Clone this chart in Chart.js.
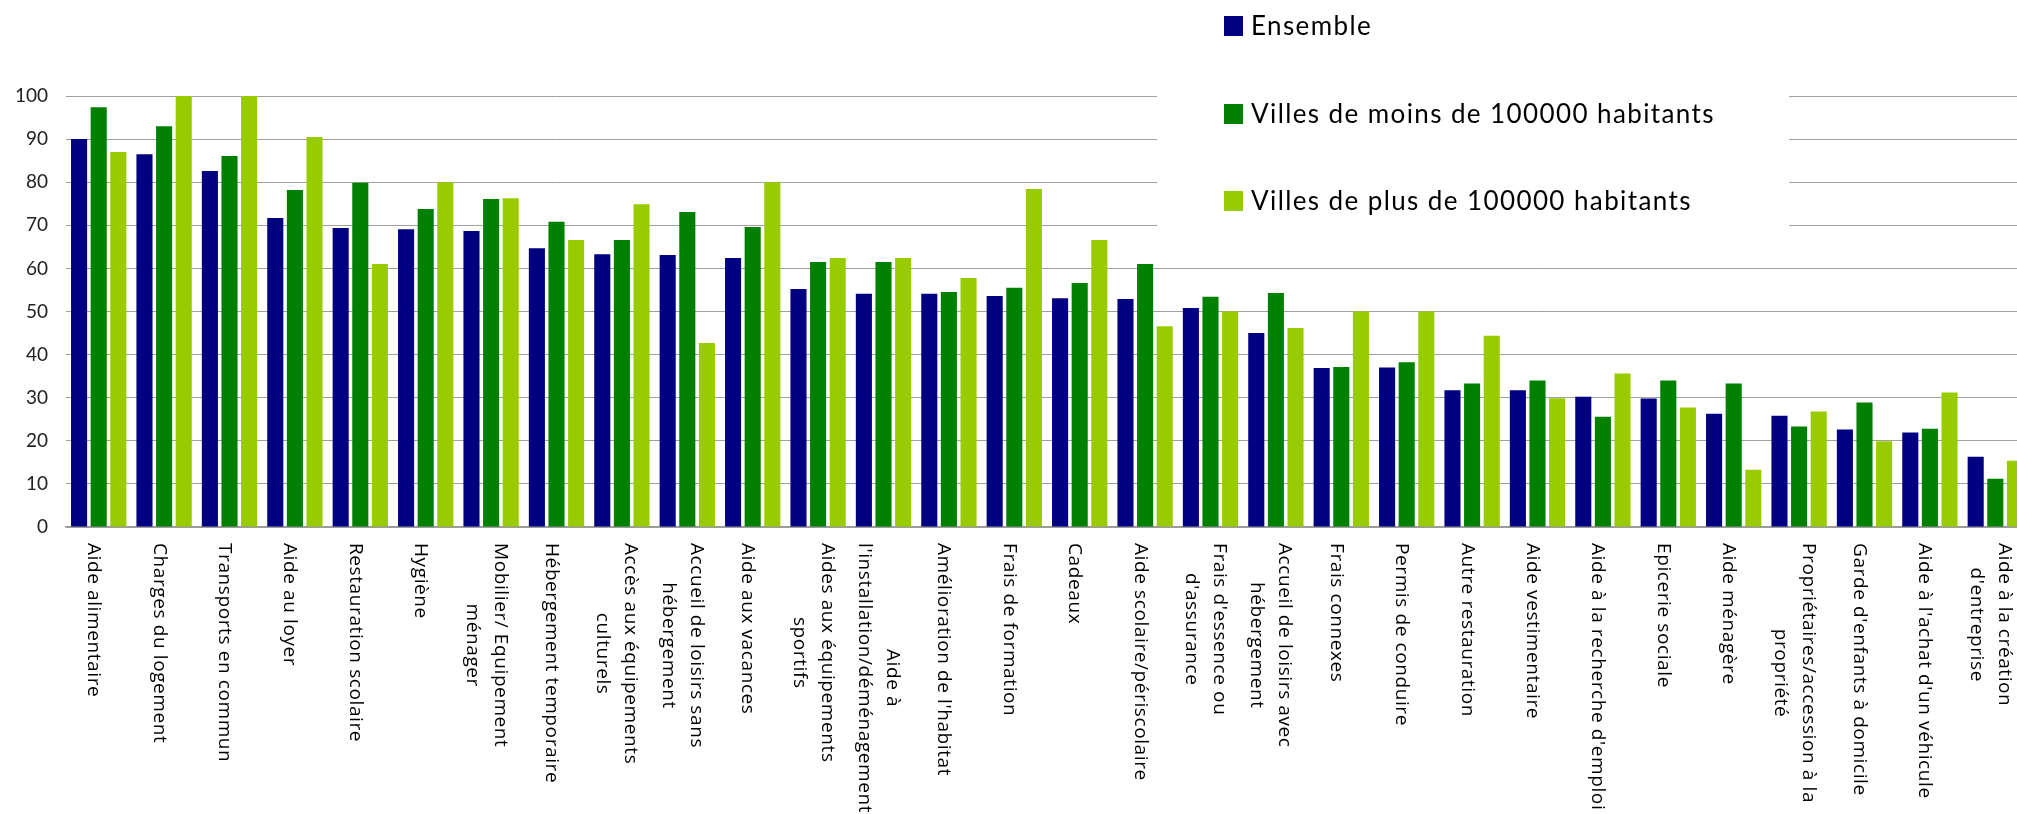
<!DOCTYPE html>
<html>
<head>
<meta charset="utf-8">
<script src="https://cdn.jsdelivr.net/npm/chart.js@4/dist/chart.umd.min.js"></script>
<style>
  html, body { margin: 0; padding: 0; background: #fff; overflow: hidden; width: 2017px; height: 814px; }
  canvas { display: block; }
</style>
</head>
<body>
<canvas id="c" width="2030" height="814"></canvas>
<script>
const categories = [
  "Aide alimentaire",
  "Charges du logement",
  "Transports en commun",
  "Aide au loyer",
  "Restauration scolaire",
  "Hygiène",
  ["Mobilier/ Equipement", "ménager"],
  "Hébergement temporaire",
  ["Accès aux équipements", "culturels"],
  ["Accueil de loisirs sans", "hébergement"],
  "Aide aux vacances",
  ["Aides aux équipements", "sportifs"],
  ["Aide à", "l'installation/déménagement"],
  "Amélioration de l'habitat",
  "Frais de formation",
  "Cadeaux",
  "Aide scolaire/périscolaire",
  ["Frais d'essence ou", "d'assurance"],
  ["Accueil de loisirs avec", "hébergement"],
  "Frais connexes",
  "Permis de conduire",
  "Autre restauration",
  "Aide vestimentaire",
  "Aide à la recherche d'emploi",
  "Epicerie sociale",
  "Aide ménagère",
  ["Propriétaires/accession à la", "propriété"],
  "Garde d'enfants à domicile",
  "Aide à l'achat d'un véhicule",
  ["Aide à la création", "d'entreprise"]
];

const seriesNames = ["Ensemble", "Villes de moins de 100000 habitants", "Villes de plus de 100000 habitants"];

const ensemble = [90.0, 86.5, 82.6, 71.7, 69.4, 69.1, 68.7, 64.7, 63.3, 63.1,
                  62.4, 55.2, 54.1, 54.1, 53.6, 53.1, 52.9, 50.8, 45.0, 36.9,
                  37.0, 31.7, 31.7, 30.2, 29.8, 26.3, 25.8, 22.6, 21.9, 16.3];
const moins100000 = [97.4, 93.0, 86.1, 78.2, 79.9, 73.8, 76.1, 70.8, 66.6, 73.1,
                     69.6, 61.5, 61.5, 54.5, 55.5, 56.6, 61.0, 53.4, 54.3, 37.1,
                     38.2, 33.3, 34.0, 25.6, 34.0, 33.3, 23.3, 28.9, 22.8, 11.2];
const plus100000 = [87.0, 100, 100, 90.5, 61.0, 80.0, 76.3, 66.6, 74.9, 42.7,
                    80.0, 62.4, 62.4, 57.8, 78.4, 66.6, 46.6, 50.0, 46.2, 50.0,
                    50.0, 44.4, 29.9, 35.6, 27.7, 13.3, 26.8, 19.9, 31.2, 15.4];

const yTicks = [0, 10, 20, 30, 40, 50, 60, 70, 80, 90, 100];

const colors = ["#000080", "#008000", "#99cc00"];

const xLabelPlugin = {
  id: 'xLabels',
  afterDraw(chart) {
    const ctx = chart.ctx;
    const xs = chart.scales.x;
    const top = 543;
    const lh = 28;
    ctx.save();
    ctx.font = '19px "Open Sans"';
    ctx.letterSpacing = '0.6px';
    ctx.fillStyle = '#000';
    ctx.textBaseline = 'middle';
    ctx.textAlign = 'center';
    chart.data.labels.forEach((lab, i) => {
      const lines = Array.isArray(lab) ? lab : [lab];
      const w = Math.max(...lines.map(l => ctx.measureText(l).width));
      const cx = xs.getPixelForValue(i) - 5;
      ctx.save();
      ctx.translate(cx, top);
      ctx.rotate(Math.PI / 2);
      lines.forEach((l, k) => {
        const y = (k - (lines.length - 1) / 2) * lh;
        ctx.fillText(l, w / 2, y);
      });
      ctx.restore();
    });
    ctx.restore();
  }
};

const legendPlugin = {
  id: 'boxLegend',
  afterDraw(chart) {
    const ctx = chart.ctx;
    ctx.save();
    ctx.fillStyle = '#fff';
    ctx.fillRect(1157, 0, 632, 245);
    const ys = [26, 114, 201];
    ctx.font = '26px Lato';
    ctx.letterSpacing = '1.4px';
    ctx.textBaseline = 'middle';
    ctx.textAlign = 'left';
    chart.data.datasets.forEach((ds, i) => {
      ctx.fillStyle = ds.backgroundColor;
      ctx.fillRect(1224, ys[i] - 10, 19, 20);
      ctx.fillStyle = '#000';
      ctx.fillText(ds.label, 1251, ys[i] + 1);
    });
    ctx.restore();
  }
};

function build() {
  new Chart(document.getElementById('c'), {
    type: 'bar',
    data: {
      labels: categories,
      datasets: [
        { label: seriesNames[0], data: ensemble, backgroundColor: colors[0] },
        { label: seriesNames[1], data: moins100000, backgroundColor: colors[1] },
        { label: seriesNames[2], data: plus100000, backgroundColor: colors[2] }
      ]
    },
    options: {
      responsive: false,
      animation: false,
      events: [],
      datasets: { bar: { categoryPercentage: 0.9, barPercentage: 0.82 } },
      layout: { padding: { left: 0, top: 96, right: 2, bottom: 287 } },
      plugins: { legend: { display: false }, tooltip: { enabled: false } },
      scales: {
        x: {
          ticks: { display: false },
          grid: { display: false },
          border: { display: true, color: '#999', width: 1.5 },
          afterFit(s) { s.height = 0; }
        },
        y: {
          min: 0, max: 100,
          afterBuildTicks(s) { s.ticks = yTicks.map(v => ({ value: v })); },
          ticks: { font: { family: 'Lato', size: 19 }, color: '#222', padding: 18 },
          grid: { color: '#a0a0a0', lineWidth: 1, drawTicks: false },
          border: { display: false },
          afterFit(s) { s.width = 66; }
        }
      }
    },
    plugins: [xLabelPlugin, legendPlugin]
  });
}

Promise.all([
  document.fonts.load('19px "Open Sans"'),
  document.fonts.load('26px Lato'),
  document.fonts.load('19px Lato')
]).then(build, build);
</script>
</body>
</html>
